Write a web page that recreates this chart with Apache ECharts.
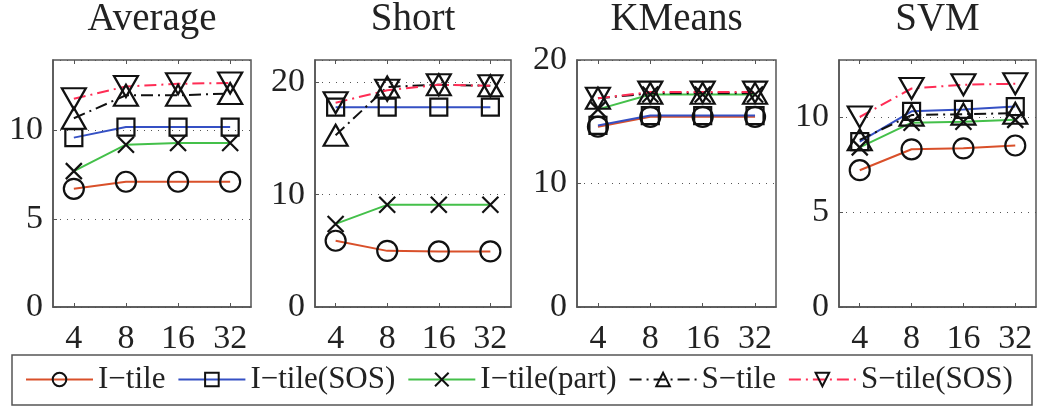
<!DOCTYPE html>
<html>
<head>
<meta charset="utf-8">
<script src="https://cdn.jsdelivr.net/npm/echarts@6/dist/echarts.min.js"></script>
<style>
  html, body { margin: 0; padding: 0; background: #fff; }
  #main { width: 1038px; height: 408px; }
</style>
</head>
<body>
<div id="main"></div>
<script>
// data
const xLabels = ["4", "8", "16", "32"];
const panelNames = ["Average", "Short", "KMeans", "SVM"];
const yMax = [14, 22, 20, 13];
const yStep = [5, 10, 10, 5];

// one row per panel: Average, Short, KMeans, SVM
const iTile = [[6.7, 7.1, 7.1, 7.1], [5.9, 5.0, 4.95, 4.95], [14.6, 15.4, 15.4, 15.4], [7.2, 8.3, 8.35, 8.5]];
const iTileSOS = [[9.6, 10.2, 10.2, 10.2], [17.8, 17.8, 17.8, 17.8], [14.7, 15.5, 15.5, 15.5], [8.7, 10.3, 10.4, 10.55]];
const iTilePart = [[7.7, 9.2, 9.3, 9.3], [7.4, 9.1, 9.1, 9.1], [16.0, 17.2, 17.2, 17.2], [8.4, 9.7, 9.75, 9.85]];
const sTile = [[10.7, 12.0, 12.0, 12.1], [15.3, 19.6, 19.8, 19.7], [16.9, 17.3, 17.3, 17.3], [8.8, 10.1, 10.15, 10.2]];
const sTileSOS = [[11.8, 12.5, 12.65, 12.7], [18.2, 19.3, 19.8, 19.7], [16.9, 17.4, 17.4, 17.4], [10.0, 11.5, 11.7, 11.75]];

const serif = '"Liberation Serif", "Times New Roman", serif';
const chart = echarts.init(document.getElementById("main"));

// plot boxes
const boxes = [
  { left: 53, width: 198 },
  { left: 315, width: 196 },
  { left: 577, width: 199 },
  { left: 839, width: 197 }
];
const dashDot = [12, 5, 2, 5];
const xMark = "path://M0,0L10,10M10,0L0,10";
const triDown = "path://M0,0L10,0L5,8.7Z";
const triUp = "path://M5,0L10,8.7L0,8.7Z";

const lines = [
  { name: "I−tile", vals: iTile, color: "#d9502a", type: "solid", symbol: "circle", size: 20 },
  { name: "I−tile(SOS)", vals: iTileSOS, color: "#3550c4", type: "solid", symbol: "rect", size: 17 },
  { name: "I−tile(part)", vals: iTilePart, color: "#44c04a", type: "solid", symbol: xMark, size: 16 },
  { name: "S−tile", vals: sTile, color: "#111", type: dashDot, symbol: triUp, size: [24, 21] },
  { name: "S−tile(SOS)", vals: sTileSOS, color: "#ff2d55", type: dashDot, symbol: triDown, size: [24, 21] }
];

const grid = [], xAxis = [], yAxis = [], series = [], title = [];
boxes.forEach(function (b, p) {
  grid.push({
    left: b.left, top: 60, width: b.width, height: 247,
    show: true, borderColor: "#555", borderWidth: 1.5
  });
  title.push({
    text: panelNames[p],
    left: b.left + b.width / 2,
    top: 0,
    textAlign: "center",
    padding: 0,
    textStyle: { fontFamily: serif, fontSize: 39, fontWeight: "normal", color: "#222" }
  });
  xAxis.push({
    type: "value", gridIndex: p, min: -0.4, max: 3.4,
    axisLine: { onZero: false, lineStyle: { color: "#555", width: 1.5 } },
    axisTick: { inside: true, length: 4, customValues: [0, 1, 2, 3], lineStyle: { color: "#555" } },
    axisLabel: {
      customValues: [0, 1, 2, 3],
      formatter: function (v) { return xLabels[Math.round(v)]; },
      fontFamily: serif, fontSize: 34, color: "#222", margin: 15
    },
    splitLine: { show: false }
  });
  // top ticks
  xAxis.push({
    type: "value", gridIndex: p, position: "top", min: -0.4, max: 3.4,
    axisLine: { show: false, onZero: false },
    axisTick: { inside: true, length: 4, customValues: [0, 1, 2, 3], lineStyle: { color: "#555" } },
    axisLabel: { show: false },
    splitLine: { show: false }
  });
  yAxis.push({
    type: "value", gridIndex: p, min: 0, max: yMax[p], interval: yStep[p],
    axisLine: { show: true, onZero: false, lineStyle: { color: "#555", width: 1.5 } },
    axisTick: { show: true, inside: true, length: 4, lineStyle: { color: "#555" } },
    axisLabel: {
      showMaxLabel: yMax[p] % yStep[p] === 0,
      formatter: function (v) { return v % yStep[p] === 0 ? String(v) : ""; },
      fontFamily: serif, fontSize: 34, color: "#222", margin: 10
    },
    splitLine: { show: true, lineStyle: { color: "#555", width: 1, type: [1, 6] } }
  });
  lines.forEach(function (s) {
    series.push({
      name: s.name,
      type: "line",
      xAxisIndex: p * 2,
      yAxisIndex: p,
      data: s.vals[p].map(function (v, i) { return [i, v]; }),
      symbol: s.symbol,
      symbolSize: s.size,
      showAllSymbol: true,
      animation: false,
      lineStyle: { color: s.color, width: 2, type: s.type },
      itemStyle: { color: "rgba(0,0,0,0)", borderColor: "#111", borderWidth: 2.2 },
      emphasis: { disabled: true }
    });
  });
});

const option = {
  backgroundColor: "#fff",
  animation: false,
  title: title,
  grid: grid,
  xAxis: xAxis,
  yAxis: yAxis,
  legend: {
    left: 25,
    top: 364,
    padding: 0,
    itemWidth: 67,
    itemHeight: 17,
    itemGap: 12,
    textStyle: { fontFamily: serif, fontSize: 31, color: "#222", padding: [0, 0, 0, 0] },
    data: lines.map(function (s) { return s.name; })
  },
  graphic: [{
    type: "rect",
    shape: { x: 12, y: 355, width: 1020, height: 50 },
    style: { fill: "none", stroke: "#555", lineWidth: 1.5 },
    silent: true
  }],
  series: series
};
chart.setOption(option);
</script>
</body>
</html>
